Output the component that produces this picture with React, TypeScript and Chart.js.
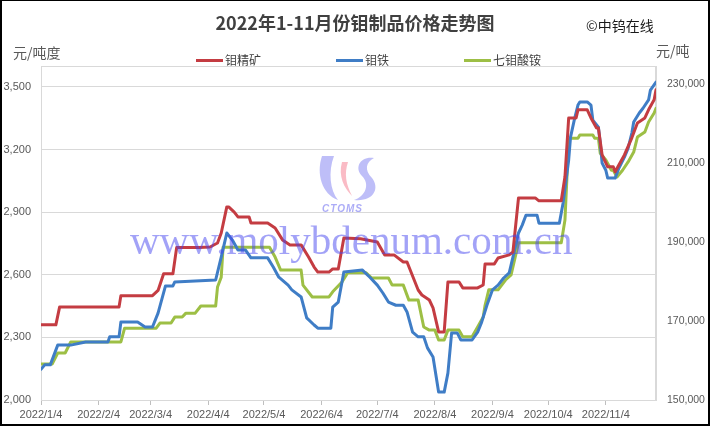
import React, { useEffect, useRef } from 'react';
import { Chart, registerables } from 'chart.js';

Chart.register(...registerables);

// ---- Data ----
const tickDays = [0, 31, 59, 90, 120, 151, 181, 212, 243, 273, 304];
const tickLabels = ['2022/1/4', '2022/2/4', '2022/3/4', '2022/4/4', '2022/5/4', '2022/6/4', '2022/7/4', '2022/8/4', '2022/9/4', '2022/10/4', '2022/11/4'];
const leftTicks = [2000, 2300, 2600, 2900, 3200, 3500];
const rightTicks = [150000, 170000, 190000, 210000, 230000];

// 钼精矿 (元/吨度, left axis) — day offset from 2022/1/4
const oreDays = [0, 8, 10, 42, 43, 60, 63, 66, 71, 73, 85, 91, 95, 97, 100, 101, 104, 106, 112, 113, 122, 126, 130, 134, 140, 144, 147, 149, 155, 157, 160, 163, 172, 181, 185, 190, 195, 197, 203, 205, 209, 211, 214, 217, 219, 225, 227, 235, 238, 239, 244, 246, 252, 254, 257, 266, 268, 280, 282, 284, 288, 289, 294, 296, 299, 300, 302, 305, 308, 309, 314, 318, 321, 325, 327, 330, 331];
const oreValues = [2360, 2360, 2445, 2445, 2500, 2500, 2525, 2605, 2605, 2730, 2730, 2733, 2752, 2800, 2925, 2925, 2900, 2877, 2877, 2848, 2848, 2824, 2767, 2743, 2743, 2685, 2637, 2613, 2613, 2628, 2628, 2776, 2772, 2757, 2695, 2695, 2661, 2661, 2527, 2503, 2479, 2441, 2326, 2326, 2565, 2565, 2537, 2537, 2551, 2652, 2652, 2680, 2695, 2709, 2968, 2968, 2954, 2954, 3069, 3351, 3351, 3390, 3390, 3351, 3303, 3303, 3174, 3117, 3117, 3093, 3174, 3256, 3327, 3351, 3390, 3438, 3486];

// 钼铁 (元/吨, right axis)
const feDays = [0, 2, 5, 9, 16, 24, 36, 37, 42, 43, 52, 56, 60, 63, 67, 71, 72, 94, 97, 100, 103, 106, 110, 113, 122, 125, 128, 133, 135, 140, 143, 147, 149, 156, 157, 160, 163, 173, 177, 181, 184, 187, 191, 195, 197, 200, 203, 206, 208, 211, 214, 217, 219, 221, 224, 226, 232, 235, 237, 240, 243, 246, 249, 252, 254, 257, 259, 261, 267, 268, 279, 281, 284, 285, 287, 289, 290, 294, 296, 297, 300, 301, 302, 304, 305, 309, 311, 314, 316, 318, 319, 322, 324, 327, 328, 331];
const feValues = [157800, 158900, 158900, 163900, 163900, 164700, 164700, 166000, 166000, 169750, 169750, 168500, 168500, 172000, 178900, 178900, 179900, 180400, 186200, 192300, 190500, 188000, 188000, 186000, 186000, 183700, 181100, 179100, 177900, 176100, 170800, 169000, 168200, 168200, 173500, 174800, 182400, 182900, 181100, 179100, 177100, 174800, 174000, 174000, 172300, 167200, 166000, 166000, 163200, 160900, 152000, 152000, 156800, 167000, 167000, 165200, 165200, 167200, 169500, 174000, 177900, 179100, 180900, 182200, 186200, 192300, 194300, 196800, 196800, 194800, 194800, 199900, 210800, 216600, 220900, 224700, 225500, 225500, 224700, 220900, 219100, 215100, 210000, 208200, 206200, 206200, 208700, 211500, 213800, 217600, 220400, 222700, 223900, 226000, 228500, 230500];

// 七钼酸铵 (元/吨, right axis)
const ahmDays = [0, 6, 9, 13, 16, 43, 45, 62, 64, 70, 72, 76, 78, 83, 86, 94, 95, 97, 98, 123, 126, 129, 140, 141, 146, 155, 157, 162, 165, 175, 178, 187, 189, 195, 198, 203, 206, 209, 212, 214, 217, 219, 225, 227, 232, 235, 238, 239, 241, 246, 250, 253, 257, 280, 282, 284, 285, 289, 290, 297, 298, 300, 301, 304, 307, 308, 310, 313, 316, 319, 321, 325, 327, 330, 331];
const ahmValues = [159100, 159100, 161900, 161900, 164700, 164700, 168200, 168200, 169500, 169500, 171000, 171000, 172000, 172000, 173800, 173800, 178600, 181100, 188700, 188700, 186200, 182900, 182900, 179100, 176100, 176100, 177400, 179900, 182200, 182200, 180900, 180900, 179100, 179100, 175300, 175300, 168500, 167700, 167700, 165200, 165200, 167700, 167700, 166000, 166000, 168500, 171000, 174000, 177900, 177900, 180400, 181700, 189800, 189800, 195600, 215800, 216300, 216300, 217100, 217100, 216300, 216300, 212500, 210800, 208200, 208200, 206500, 208200, 210300, 212800, 216600, 217900, 220400, 222700, 223900];

const seriesNames = ['钼精矿', '钼铁', '七钼酸铵'];
const seriesColors = ['#c43c42', '#3f7dc6', '#9dbf45'];

const toPoints = (xs: number[], ys: number[]) => xs.map((x, i) => ({ x, y: ys[i] }));

const TICK_FONT = { family: '"Liberation Sans", Arial, sans-serif', size: 11 };
const RIGHT_TICK_FONT = { family: '"Liberation Sans", Arial, sans-serif', size: 10.5 };
const TICK_COLOR = '#595959';

const framePlugin = {
  id: 'frame',
  beforeDatasetsDraw(chart: any) {
    const { ctx, chartArea } = chart;
    ctx.save();
    ctx.strokeStyle = '#d9d9d9';
    ctx.lineWidth = 1;
    ctx.strokeRect(chartArea.left + 0.5, chartArea.top + 0.5, chartArea.right - chartArea.left - 1, chartArea.bottom - chartArea.top);
    ctx.restore();
  },
};

export default function App() {
  const canvasRef = useRef<HTMLCanvasElement | null>(null);

  useEffect(() => {
    document.body.style.margin = '0';
    const canvas = canvasRef.current;
    if (!canvas) return;
    const chart = new Chart(canvas, {
      type: 'line',
      data: {
        datasets: [
          { label: seriesNames[0], data: toPoints(oreDays, oreValues), borderColor: seriesColors[0], backgroundColor: seriesColors[0], yAxisID: 'yL' },
          { label: seriesNames[1], data: toPoints(feDays, feValues), borderColor: seriesColors[1], backgroundColor: seriesColors[1], yAxisID: 'yR' },
          { label: seriesNames[2], data: toPoints(ahmDays, ahmValues), borderColor: seriesColors[2], backgroundColor: seriesColors[2], yAxisID: 'yR' },
        ],
      },
      options: {
        animation: false,
        responsive: false,
        maintainAspectRatio: false,
        layout: { padding: { top: 66, left: 0, right: 0, bottom: 0 } },
        elements: {
          point: { radius: 0, hoverRadius: 0 },
          line: { borderWidth: 3, tension: 0, borderJoinStyle: 'round', borderCapStyle: 'round' },
        },
        plugins: {
          legend: { display: false },
          title: { display: false },
          tooltip: { enabled: false },
        },
        scales: {
          x: {
            type: 'linear',
            min: 0,
            max: 331,
            afterBuildTicks: (s: any) => {
              s.ticks = tickDays.map((v) => ({ value: v }));
            },
            afterFit: (s: any) => {
              s.height = 26;
            },
            ticks: {
              autoSkip: false,
              maxRotation: 0,
              minRotation: 0,
              padding: 3,
              font: TICK_FONT,
              color: TICK_COLOR,
              callback: (_v: any, i: number) => tickLabels[i],
            },
            grid: { drawOnChartArea: false, drawTicks: true, tickLength: 5, color: '#bfbfbf' },
            border: { color: '#bfbfbf' },
          },
          yL: {
            position: 'left',
            min: 2000,
            max: 3600,
            afterBuildTicks: (s: any) => {
              s.ticks = leftTicks.map((v) => ({ value: v }));
            },
            afterFit: (s: any) => {
              s.width = 41;
            },
            ticks: {
              autoSkip: false,
              padding: 10,
              font: TICK_FONT,
              color: TICK_COLOR,
              callback: (v: any) => Number(v).toLocaleString('en-US'),
            },
            grid: { color: '#d9d9d9', drawTicks: false },
            border: { color: '#d9d9d9' },
          },
          yR: {
            position: 'right',
            min: 150000,
            max: 234600,
            afterBuildTicks: (s: any) => {
              s.ticks = rightTicks.map((v) => ({ value: v }));
            },
            afterFit: (s: any) => {
              s.width = 54;
            },
            ticks: {
              autoSkip: false,
              padding: 11,
              font: RIGHT_TICK_FONT,
              color: TICK_COLOR,
              callback: (v: any) => Number(v).toLocaleString('en-US'),
            },
            grid: { drawOnChartArea: false, drawTicks: false },
            border: { color: '#d9d9d9' },
          },
        },
      },
      plugins: [framePlugin],
    } as any);
    return () => chart.destroy();
  }, []);

  const cjk = '"Noto Sans CJK SC", "Noto Sans", sans-serif';
  const abs = (o: React.CSSProperties): React.CSSProperties => ({ position: 'absolute', whiteSpace: 'nowrap', pointerEvents: 'none', ...o });
  const legendX = [196, 336, 464];

  return (
    <div style={{ position: 'relative', width: 710, height: 426, overflow: 'hidden', background: '#fff', fontFamily: cjk }}>
      <canvas ref={canvasRef} width={710} height={426} style={{ position: 'absolute', left: 0, top: 0, width: 710, height: 426 }} />
      <div style={abs({ left: 0, top: 10, width: 710, textAlign: 'center', fontSize: 18, lineHeight: '24px', fontWeight: 'bold', color: '#404040' })}>
        2022年1-11月份钼制品价格走势图
      </div>
      <div style={abs({ left: 586, top: 15, fontSize: 14, lineHeight: '20px', color: '#1a1a1a' })}>©中钨在线</div>
      <div style={abs({ left: 13, top: 42, fontSize: 14, lineHeight: '20px', color: '#595959' })}>元/吨度</div>
      <div style={abs({ left: 656, top: 40, fontSize: 14, lineHeight: '20px', color: '#595959' })}>元/吨</div>
      {seriesNames.map((name, i) => (
        <div key={name} style={abs({ left: legendX[i], top: 51, height: 18, display: 'flex', alignItems: 'center', fontSize: 12, color: '#404040' })}>
          <span style={{ display: 'inline-block', width: 27, height: 3, background: seriesColors[i], marginRight: 2 }} />
          <span style={{ lineHeight: '18px' }}>{name}</span>
        </div>
      ))}
      <svg style={abs({ left: 316, top: 154, width: 64, height: 52 })} viewBox="0 0 64 52">
        <path d="M6 2 C0 20 6 40 22 46 C14 36 12 18 18 2 Z" fill="rgba(110,110,240,0.45)" />
        <path d="M26 8 C22 22 28 34 36 42 C30 30 28 20 32 8 Z" fill="rgba(245,120,140,0.5)" />
        <path d="M58 4 C44 2 38 14 46 22 C54 30 50 42 38 46 C58 48 64 34 56 24 C48 16 50 8 58 4 Z" fill="rgba(110,110,240,0.45)" />
      </svg>
      <div style={abs({ left: 322, top: 203, fontSize: 10, lineHeight: '12px', fontStyle: 'italic', fontWeight: 'bold', fontFamily: '"Liberation Sans", Arial, sans-serif', color: 'rgba(90,90,240,0.5)', letterSpacing: 1 })}>
        CTOMS
      </div>
      <div style={abs({ left: 130, top: 220, fontSize: 41, lineHeight: '41px', fontFamily: '"Liberation Serif", "DejaVu Serif", serif', color: 'rgba(70,70,240,0.5)' })}>
        www.molybdenum.com.cn
      </div>
      <div style={abs({ left: 0, top: 0, width: 710, height: 426, boxSizing: 'border-box', borderTop: '1px solid #000', borderLeft: '2px solid #000', borderRight: '2px solid #000', borderBottom: '2px solid #000' })} />
    </div>
  );
}
